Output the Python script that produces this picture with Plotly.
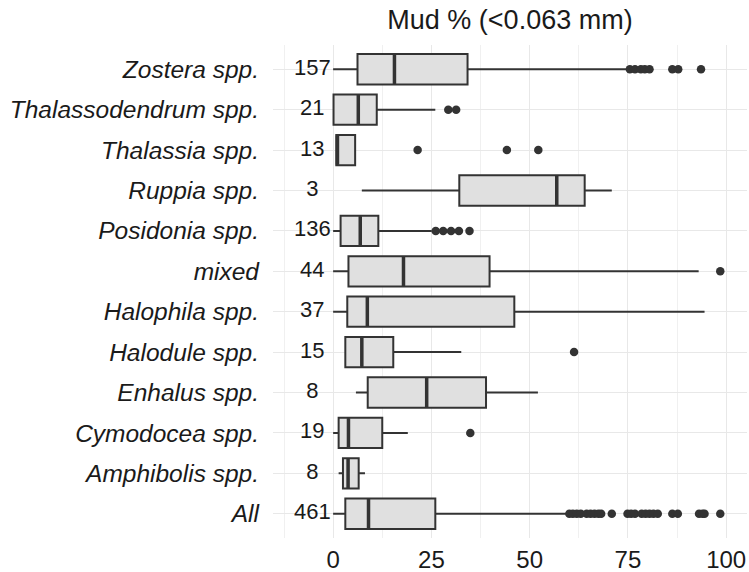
import plotly.graph_objects as go

# ---- data (top to bottom) ----
categories = ["Zostera spp.", "Thalassodendrum spp.", "Thalassia spp.", "Ruppia spp.",
              "Posidonia spp.", "mixed", "Halophila spp.", "Halodule spp.",
              "Enhalus spp.", "Cymodocea spp.", "Amphibolis spp.", "All"]
n_counts = [157, 21, 13, 3, 136, 44, 37, 15, 8, 19, 8, 461]
lower_whisker = [0.0, 0.1, 0.8, 7.3, 0.0, 0.0, 0.0, 3.1, 5.8, 0.0, 1.4, 0.0]
q1_vals       = [6.2, 0.1, 0.8, 32.1, 1.9, 3.9, 3.6, 3.1, 8.8, 1.4, 2.5, 3.1]
median_vals   = [15.6, 6.4, 1.1, 56.9, 6.9, 17.9, 8.7, 7.3, 23.8, 3.9, 3.8, 9.0]
q3_vals       = [34.2, 11.1, 5.6, 64.0, 11.5, 39.8, 46.1, 15.3, 38.9, 12.5, 6.5, 26.0]
upper_whisker = [75.0, 26.0, 5.6, 70.9, 25.1, 93.0, 94.5, 32.6, 52.1, 19.0, 8.1, 59.7]
outliers = {
    "Zostera spp.": [75.5, 76.8, 78.3, 79.3, 80.5, 86.3, 87.8, 93.6],
    "Thalassodendrum spp.": [29.3, 31.3],
    "Thalassia spp.": [21.5, 44.2, 52.2],
    "Posidonia spp.": [26.1, 28.0, 30.0, 32.0, 34.7],
    "mixed": [98.5],
    "Halodule spp.": [61.3],
    "Cymodocea spp.": [34.9],
    "All": [60.1, 61.0, 62.0, 63.0, 64.5, 65.5, 66.5, 67.5, 68.2, 70.9,
            74.9, 75.8, 76.8, 78.5, 79.5, 80.5, 81.5, 82.6, 86.3, 87.7,
            93.1, 94.0, 94.5, 98.5],
}
x_ticks = [0, 25, 50, 75, 100]
title_text = "Mud % (&lt;0.063 mm)"

FONT = "Liberation Sans, Arial, sans-serif"
DARK = "#333333"
TXT = "#1a1a1a"
GRID = "#e8e8e8"

N = len(categories)
positions = [N - i for i in range(N)]

fig = go.Figure()

for i, cat in enumerate(categories):
    fig.add_trace(go.Box(
        y=[positions[i]], orientation="h",
        q1=[q1_vals[i]], median=[median_vals[i]], q3=[q3_vals[i]],
        lowerfence=[lower_whisker[i]], upperfence=[upper_whisker[i]],
        width=0.75, whiskerwidth=0, boxpoints=False,
        fillcolor="#e0e0e0", line=dict(color=DARK, width=2),
        showlegend=False, hoverinfo="skip",
    ))

# thicker median lines
fig.add_trace(go.Scatter(
    x=median_vals, y=positions, mode="markers",
    marker=dict(symbol="line-ns", size=21, line=dict(color=DARK, width=3.5)),
    showlegend=False, hoverinfo="skip",
))

# outliers
ox, oy = [], []
for i, cat in enumerate(categories):
    for v in outliers.get(cat, []):
        ox.append(v)
        oy.append(positions[i])
fig.add_trace(go.Scatter(
    x=ox, y=oy, mode="markers",
    marker=dict(color=DARK, size=8.5, line=dict(width=0)),
    showlegend=False, hoverinfo="skip",
))

# n labels
fig.add_trace(go.Scatter(
    x=[-5.3] * N, y=positions, mode="text",
    text=[str(v) for v in n_counts], textposition="middle center",
    textfont=dict(family=FONT, size=22, color=TXT),
    showlegend=False, hoverinfo="skip", cliponaxis=False,
))

fig.add_annotation(x=-5.3, y=12.64, xref="x", yref="y", text="<b>n</b>",
                   showarrow=False, font=dict(family=FONT, size=19, color=TXT),
                   xanchor="center", yanchor="middle")

fig.update_layout(
    width=749, height=572,
    margin=dict(l=273, r=2, t=45, b=34),
    paper_bgcolor="white", plot_bgcolor="white",
    font=dict(family=FONT, color=TXT),
    title=dict(text=title_text, x=0.5, xref="paper", y=1 - 20 / 572, yref="container",
               xanchor="center", yanchor="middle",
               font=dict(family=FONT, size=27, color=TXT)),
    boxmode="overlay",
)

fig.update_xaxes(
    range=[-15.3, 105.3], tickmode="array", tickvals=x_ticks,
    ticktext=[str(t) for t in x_ticks], automargin=False,
    showgrid=True, gridcolor=GRID, gridwidth=1.3, zeroline=False,
    showline=False, ticks="", ticklabelstandoff=5,
    tickfont=dict(family=FONT, size=24, color=TXT),
    minor=dict(tickmode="linear", tick0=0, dtick=12.5, showgrid=True,
               gridcolor="#f0f0f0", gridwidth=0.7),
)
fig.update_yaxes(
    range=[0.4, 12.6], tickmode="array", tickvals=positions,
    ticktext=["<i>%s</i>" % c for c in categories], automargin=False,
    showgrid=True, gridcolor=GRID, gridwidth=1.3, zeroline=False,
    showline=False, ticks="", ticklabelstandoff=13,
    tickfont=dict(family=FONT, size=24.5, color=TXT),
)

fig.write_html("out.html")
